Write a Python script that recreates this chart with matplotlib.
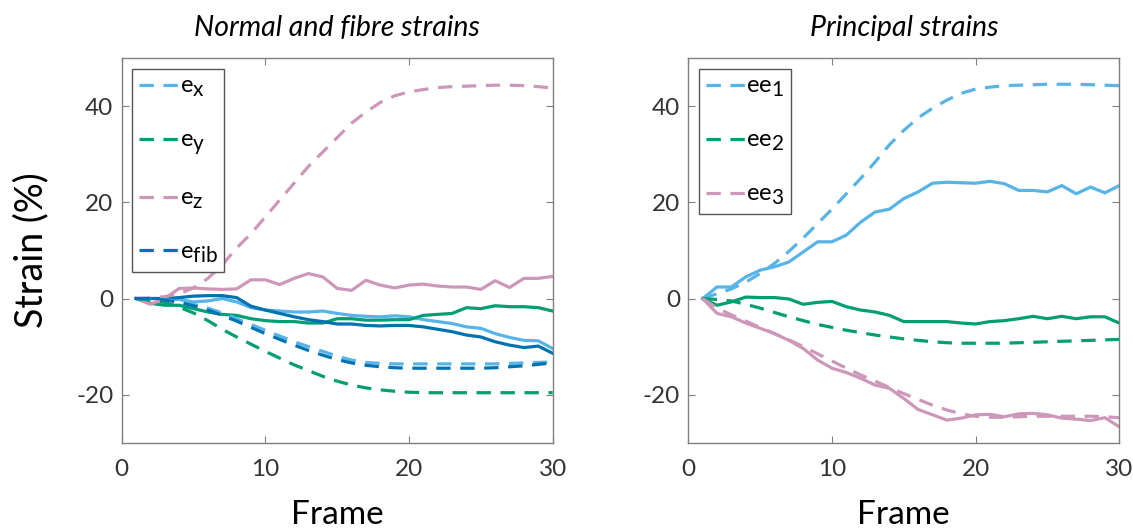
import matplotlib.pyplot as plt
import matplotlib._mathtext as mathtext_impl
import numpy as np

plt.rcParams['font.family'] = ['Lato', 'DejaVu Sans']
plt.rcParams['mathtext.fontset'] = 'custom'
plt.rcParams['mathtext.rm'] = 'Lato'
plt.rcParams['axes.unicode_minus'] = False
# MATLAB-style subscripts are nearly full size
mathtext_impl.SHRINK_FACTOR = 0.88

frames = np.arange(1, 31)

# normal and fibre strains, dashed = model, solid = measured
ex_dash = [0, 0, -0.2, -0.6, -1.2, -2.0, -3.0, -4.2, -5.4, -6.6, -7.8, -9.0, -10.0, -11.0, -12.0,
           -12.8, -13.3, -13.5, -13.6, -13.6, -13.6, -13.6, -13.6, -13.6, -13.6, -13.6, -13.5, -13.4, -13.3, -13.2]
ey_dash = [0, -0.3, -0.8, -1.8, -3.0, -4.6, -6.4, -8.0, -9.5, -11.0, -12.4, -13.8, -15.0, -16.2, -17.2,
           -18.0, -18.6, -19.0, -19.3, -19.5, -19.6, -19.6, -19.6, -19.6, -19.6, -19.6, -19.6, -19.6, -19.6, -19.6]
ez_dash = [0, 0.1, 0.4, 1.0, 2.2, 4.2, 7.0, 10.5, 13.5, 17.0, 20.5, 24.0, 27.5, 30.5, 33.5,
           36.5, 38.8, 40.8, 42.2, 43.0, 43.5, 43.9, 44.1, 44.2, 44.3, 44.4, 44.4, 44.3, 44.1, 43.8]
efib_dash = [0, 0, -0.3, -0.8, -1.5, -2.4, -3.5, -4.7, -6.0, -7.3, -8.5, -9.7, -10.8, -11.8, -12.7,
             -13.4, -13.9, -14.2, -14.4, -14.5, -14.5, -14.5, -14.5, -14.5, -14.5, -14.4, -14.2, -14.0, -13.7, -13.4]

ex_sol = [0, 0, 0, -0.2, -0.7, -0.5, 0, -0.7, -1.9, -2.4, -2.6, -2.8, -2.8, -2.6, -3.1,
          -3.5, -3.7, -3.8, -3.6, -3.8, -4.4, -4.8, -5.2, -5.9, -6.2, -7.3, -8.1, -8.7, -8.8, -10.4]
ey_sol = [0, -1.0, -1.4, -1.4, -2.1, -2.8, -3.3, -3.5, -4.2, -4.6, -4.8, -4.8, -5.1, -5.1, -4.2,
          -4.2, -4.5, -4.5, -4.4, -4.4, -3.5, -3.3, -3.1, -1.9, -2.1, -1.5, -1.7, -1.7, -1.9, -2.6]
ez_sol = [0, -1.2, 0, 2.1, 2.2, 2.0, 1.9, 2.0, 3.9, 3.9, 2.9, 4.2, 5.2, 4.5, 2.1,
          1.7, 3.8, 2.8, 2.2, 2.8, 3.0, 2.6, 2.4, 2.4, 1.9, 3.7, 2.3, 4.2, 4.2, 4.6]
efib_sol = [0, 0, 0, 0.2, 0.5, 0.6, 0.6, 0.2, -1.6, -2.4, -3.1, -3.8, -4.4, -4.8, -5.3,
            -5.3, -5.6, -5.7, -5.6, -5.6, -5.9, -6.4, -6.9, -7.6, -8.0, -9.0, -9.7, -10.2, -9.9, -11.4]

# principal strains
ee1_dash = [0, 1.0, 2.0, 3.4, 5.2, 7.3, 9.8, 12.6, 15.6, 18.6, 21.8, 25.0, 28.4, 32.0, 35.0,
            37.6, 39.6, 41.3, 42.7, 43.6, 44.0, 44.3, 44.4, 44.5, 44.6, 44.6, 44.6, 44.5, 44.4, 44.3]
ee2_dash = [0, -0.2, -0.5, -1.2, -2.0, -2.9, -3.8, -4.6, -5.4, -6.0, -6.6, -7.1, -7.6, -8.0, -8.4,
            -8.7, -9.0, -9.2, -9.3, -9.3, -9.3, -9.3, -9.2, -9.1, -9.0, -8.9, -8.8, -8.7, -8.6, -8.5]
ee3_dash = [0, -2.0, -3.4, -4.7, -6.0, -7.3, -8.6, -10.0, -11.5, -13.0, -14.5, -15.9, -17.2, -18.5, -19.8,
            -21.0, -22.2, -23.2, -24.0, -24.5, -24.7, -24.7, -24.6, -24.5, -24.5, -24.5, -24.5, -24.5, -24.6, -24.8]

ee1_sol = [0, 2.4, 2.4, 4.5, 5.9, 6.6, 7.6, 9.7, 11.8, 11.8, 13.2, 15.9, 18.0, 18.6, 20.8,
           22.2, 24.0, 24.2, 24.1, 24.0, 24.4, 23.9, 22.5, 22.5, 22.2, 23.5, 21.8, 23.2, 22.0, 23.5]
ee2_sol = [0, -1.4, -0.7, 0.3, 0.2, 0.2, -0.1, -1.2, -0.8, -0.6, -1.7, -2.4, -2.8, -3.5, -4.8,
           -4.8, -4.8, -4.8, -5.1, -5.3, -4.8, -4.6, -4.2, -3.7, -4.2, -3.7, -4.2, -3.8, -3.8, -5.1]
ee3_sol = [0, -3.1, -3.8, -5.1, -6.2, -7.3, -8.7, -10.4, -12.8, -14.5, -15.4, -16.6, -18.0, -18.7, -20.8,
           -23.1, -24.2, -25.3, -24.9, -24.2, -24.1, -24.6, -24.0, -23.9, -24.2, -24.9, -25.1, -25.4, -24.8, -26.7]

c_light = '#56B4E9'
c_green = '#009E73'
c_pink = '#CC97B8'
c_dark = '#0072B2'
lw = 2.3
dash = (4.5, 3)

fig = plt.figure(figsize=(11.33, 5.28), dpi=100)
ax1 = fig.add_axes([0.1074, 0.1616, 0.3804, 0.728])
ax2 = fig.add_axes([0.6075, 0.1616, 0.3804, 0.728])

# left panel
for y, c in [(ex_sol, c_light), (ey_sol, c_green), (ez_sol, c_pink), (efib_sol, c_dark)]:
    ax1.plot(frames, y, color=c, lw=lw)
for y, c, lab in [(ex_dash, c_light, r'e$_\mathregular{x}$'), (ey_dash, c_green, r'e$_\mathregular{y}$'),
                  (ez_dash, c_pink, r'e$_\mathregular{z}$'), (efib_dash, c_dark, r'e$_\mathregular{fib}$')]:
    ax1.plot(frames, y, color=c, lw=lw, dashes=dash, label=lab)

# right panel
for y, c in [(ee1_sol, c_light), (ee2_sol, c_green), (ee3_sol, c_pink)]:
    ax2.plot(frames, y, color=c, lw=lw)
for y, c, lab in [(ee1_dash, c_light, r'ee$_\mathregular{1}$'), (ee2_dash, c_green, r'ee$_\mathregular{2}$'),
                  (ee3_dash, c_pink, r'ee$_\mathregular{3}$')]:
    ax2.plot(frames, y, color=c, lw=lw, dashes=dash, label=lab)

for ax, title in [(ax1, 'Normal and fibre strains'), (ax2, 'Principal strains')]:
    ax.set_xlim(0, 30)
    ax.set_ylim(-30, 50)
    ax.set_xticks([0, 10, 20, 30])
    ax.set_yticks([-20, 0, 20, 40])
    ax.tick_params(direction='in', top=True, right=True, length=5, color='#808080',
                   labelsize=17.5, labelcolor='#333333')
    ax.tick_params(axis='x', pad=12)
    ax.tick_params(axis='y', pad=6)
    for s in ax.spines.values():
        s.set_color('#808080')
        s.set_linewidth(1)
    ax.set_title(title, fontsize=20.5, style='italic', pad=16)
    ax.set_xlabel('Frame', fontsize=24, labelpad=14)
    leg = ax.legend(loc='upper left', fontsize=17, handlelength=1.65, handletextpad=0.05,
                    labelspacing=1.3, borderaxespad=0.45, fancybox=False, framealpha=1,
                    edgecolor='#555555', borderpad=0.3)
    leg.get_frame().set_linewidth(1)

ax1.set_ylabel('Strain (%)', fontsize=27, labelpad=19)

fig.savefig('out.png', dpi=100)
